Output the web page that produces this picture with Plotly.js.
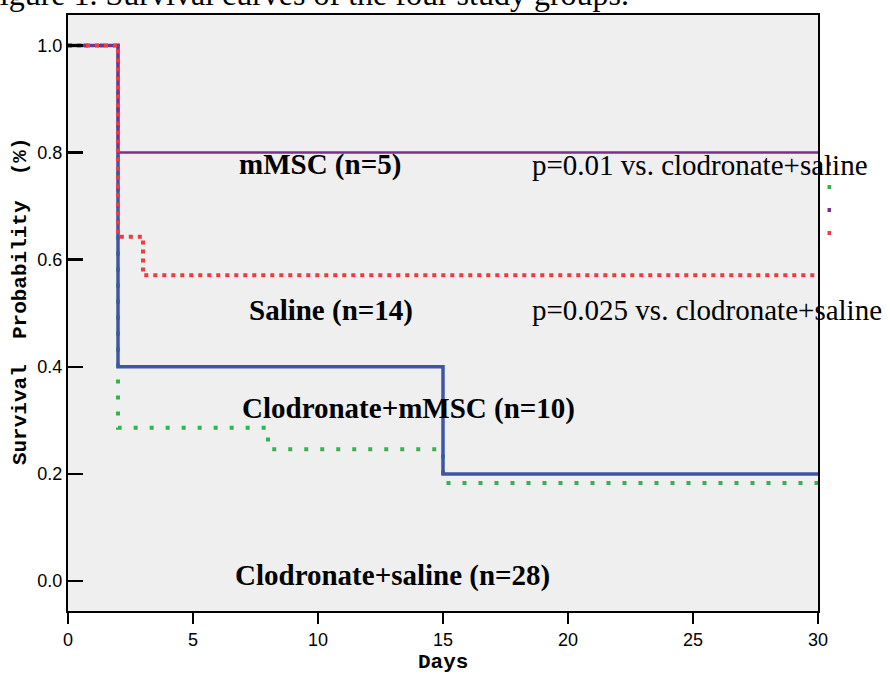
<!DOCTYPE html>
<html>
<head>
<meta charset="utf-8">
<script src="https://cdn.plot.ly/plotly-3.0.1.min.js"></script>
<style>html,body{margin:0;padding:0;background:#fff;}#chart{width:887px;height:675px;}</style>
</head>
<body>
<div id="chart"></div>
<script>
// Data (Kaplan-Meier step curves)
const mmscDays = [0, 2, 30];
const mmscSurv = [1.0, 0.8, 0.8];
const salineDays = [0, 2, 3, 30];
const salineSurv = [1.0, 0.643, 0.571, 0.571];
const clodMmscDays = [0, 2, 15, 30];
const clodMmscSurv = [1.0, 0.4, 0.2, 0.2];
const clodSalineDays = [0, 2, 8, 15, 30];
const clodSalineSurv = [1.0, 0.286, 0.246, 0.183, 0.183];
const xTicks = [0, 5, 10, 15, 20, 25, 30];
const yTicks = [0.0, 0.2, 0.4, 0.6, 0.8, 1.0];
const yTickText = ['0.0', '0.2', '0.4', '0.6', '0.8', '1.0'];

const cGreen = '#2eb84c', cBlue = '#3f56a8', cPurple = '#7d2f8e', cRed = '#f2393f';

const traces = [
  {x: clodSalineDays, y: clodSalineSurv, mode: 'lines', line: {shape: 'hv', color: cGreen, width: 4, dash: '4px,12px'}, name: 'Clodronate+saline'},
  {x: clodMmscDays, y: clodMmscSurv, mode: 'lines', line: {shape: 'hv', color: cBlue, width: 3.5}, name: 'Clodronate+mMSC'},
  {x: mmscDays, y: mmscSurv, mode: 'lines', line: {shape: 'hv', color: cPurple, width: 2.5}, name: 'mMSC'},
  {x: salineDays, y: salineSurv, mode: 'lines', line: {shape: 'hv', color: cRed, width: 4, dash: '4px,5px'}, name: 'Saline'}
];

const tfont = {family: '"Liberation Serif", "Times New Roman", serif', size: 29, color: '#000'};
const monoFont = '"Liberation Mono", "Courier New", monospace';
function bold(s){return '<b>' + s + '</b>';}

const layout = {
  width: 887, height: 675,
  margin: {l: 68, r: 69, t: 15, b: 64, pad: 0},
  paper_bgcolor: '#ffffff',
  plot_bgcolor: '#efefef',
  showlegend: false,
  xaxis: {
    range: [0, 30], tickvals: xTicks, ticktext: xTicks.map(String),
    ticks: 'outside', ticklen: 11, tickwidth: 2.5, tickcolor: '#000',
    showline: true, linecolor: '#000', linewidth: 2, mirror: true,
    showgrid: false, zeroline: false,
    tickfont: {family: '"Liberation Sans", Arial, sans-serif', size: 18, color: '#000'}
  },
  yaxis: {
    range: [-0.056, 1.057], tickvals: yTicks, ticktext: yTickText,
    ticks: 'inside', ticklen: 15, tickwidth: 2.5, tickcolor: '#000',
    showline: true, linecolor: '#000', linewidth: 2, mirror: true,
    showgrid: false, zeroline: false,
    tickfont: {family: '"Liberation Sans", Arial, sans-serif', size: 18, color: '#000'}
  },
  annotations: [
    {xref: 'paper', yref: 'paper', x: -0.1173, y: 1.001, xanchor: 'left', yanchor: 'bottom', showarrow: false,
     text: 'Figure 1. Survival curves of the four study groups.', font: {family: '"Liberation Serif", "Times New Roman", serif', size: 32, color: '#000'}},
    {xref: 'paper', yref: 'paper', x: -0.064, y: 0.52, xanchor: 'center', yanchor: 'middle', textangle: -90, showarrow: false,
     text: '<b>Survival  Probability  (%)</b>', font: {family: monoFont, size: 21, color: '#000'}},
    {xref: 'paper', yref: 'paper', x: 0.5, y: -0.0856, xanchor: 'center', yanchor: 'middle', showarrow: false, borderpad: 0,
     text: '<b>Days</b>', font: {family: monoFont, size: 21, color: '#000'}},
    {x: 10.08, y: 0.777, xref: 'x', yref: 'y', showarrow: false, text: bold('mMSC (n=5)'), font: tfont},
    {x: 18.48, y: 0.777, xref: 'x', yref: 'y', xanchor: 'left', showarrow: false, text: 'p=0.01 vs. clodronate+saline', font: tfont},
    {x: 10.52, y: 0.506, xref: 'x', yref: 'y', showarrow: false, text: bold('Saline (n=14)'), font: tfont},
    {x: 18.48, y: 0.506, xref: 'x', yref: 'y', xanchor: 'left', showarrow: false, text: 'p=0.025 vs. clodronate+saline', font: tfont},
    {x: 13.6, y: 0.323, xref: 'x', yref: 'y', showarrow: false, text: bold('Clodronate+mMSC (n=10)'), font: tfont},
    {x: 12.96, y: 0.011, xref: 'x', yref: 'y', showarrow: false, text: bold('Clodronate+saline (n=28)'), font: tfont}
  ],
  shapes: [
    {type: 'rect', xref: 'paper', yref: 'paper', x0: 1.0127, x1: 1.0173, y0: (611-166)/596, y1: (611-162)/596, fillcolor: cBlue, line: {width: 0}},
    {type: 'rect', xref: 'paper', yref: 'paper', x0: 1.0127, x1: 1.0173, y0: (611-189)/596, y1: (611-185)/596, fillcolor: cGreen, line: {width: 0}},
    {type: 'rect', xref: 'paper', yref: 'paper', x0: 1.0127, x1: 1.0173, y0: (611-212)/596, y1: (611-208)/596, fillcolor: cPurple, line: {width: 0}},
    {type: 'rect', xref: 'paper', yref: 'paper', x0: 1.0127, x1: 1.0173, y0: (611-235)/596, y1: (611-231)/596, fillcolor: cRed, line: {width: 0}}
  ]
};

Plotly.newPlot('chart', traces, layout, {displayModeBar: false, staticPlot: true});
</script>
</body>
</html>
